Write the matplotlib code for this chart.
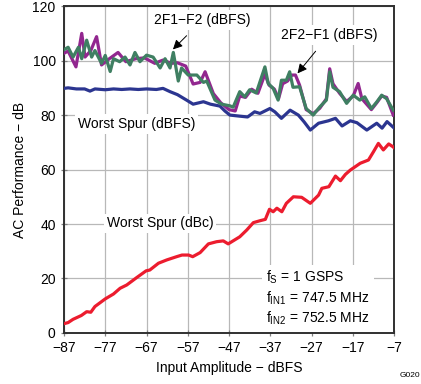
import matplotlib
matplotlib.use("Agg")
import matplotlib.pyplot as plt

plt.rcParams["font.family"] = ["Liberation Sans", "DejaVu Sans"]
plt.rcParams["mathtext.default"] = "regular"
plt.rcParams["font.size"] = 10

# Worst Spur (dBc)
dbc_x = [-87, -86, -84.8, -82.8, -81.5, -80.5, -79.5, -77, -75, -73.4, -71.8, -69.4, -67.1,
         -66.2, -64.1, -62.1, -59.7, -58.4, -56.8, -55.8, -54, -52, -50, -48.4, -47.2, -44.4,
         -42.7, -41.1, -39.5, -38.2, -37.2, -36.3, -35.4, -34.2, -33.1, -31.4, -29.4, -27.3,
         -25.3, -24.5, -22.8, -21.2, -20, -18.8, -17.6, -15.2, -13.2, -12, -10.8, -9.6, -8.3, -7.3, -7]
dbc_y = [3.4, 3.8, 5.0, 6.4, 7.8, 7.6, 9.7, 12.5, 14.3, 16.4, 17.6, 20.3, 22.8,
         23.1, 25.6, 26.8, 28.0, 28.6, 28.6, 28.0, 29.5, 32.7, 33.5, 33.8, 32.7, 35.3,
         37.8, 40.5, 41.2, 41.7, 45.4, 44.5, 45.8, 44.5, 47.6, 50.0, 49.8, 47.6,
         50.6, 53.1, 53.7, 57.6, 55.9, 58.2, 59.8, 62.3, 63.5, 66.5, 69.6, 67.2, 69.4, 68.4, 68.0]

# Worst Spur (dBFS)
dbfs_x = [-87, -86, -84, -82, -80.7, -79.5, -77, -75, -73, -71, -69, -67, -64.6, -63, -61.3,
          -59.5, -57.3, -55.7, -53.2, -51.5, -49.2, -48, -46.8, -44.4, -42.5, -40.8, -39.5,
          -37.1, -35.9, -34.3, -32.2, -30.2, -28.8, -27.3, -25.3, -22.9, -21.2, -19.6, -17.6,
          -16, -13.6, -11.2, -9.9, -8.7, -7.1]
dbfs_y = [89.8, 90.0, 89.6, 89.6, 88.8, 89.6, 89.3, 89.6, 89.4, 89.6, 89.4, 89.6, 89.4, 89.8, 88.6,
          87.5, 85.5, 84.0, 84.9, 84.0, 83.3, 81.5, 80.0, 79.6, 79.3, 81.2, 80.6,
          82.4, 81.2, 78.8, 81.8, 80.0, 77.5, 74.5, 77.0, 77.9, 78.8, 76.0, 77.9,
          77.2, 74.5, 77.0, 75.2, 77.6, 75.4]

# 2F1-F2 (purple)
imd1_x = [-87, -86, -84.1, -82.7, -81.9, -80.5, -79.1, -77.9, -76, -73.9, -72, -69.6, -67.5,
          -65, -63, -61, -59.5, -57.5, -55.7, -54, -52.8, -50.8, -49, -47, -45.5, -44.4, -43,
          -41.5, -40, -38.3, -37.3, -36, -35, -34, -32.8, -31.8, -30.9, -29.9, -28.3, -26.6,
          -25, -23.4, -22.6, -21.8, -20.2, -18.5, -16.9, -15.7, -14.8, -12.5, -11.2, -10, -8.8, -7.2]
imd1_y = [102.7, 103.5, 97.7, 110.0, 101.3, 103.7, 108.8, 98.4, 100.7, 103.0, 99.6, 100.7, 101.0,
          99.0, 100.2, 99.0, 99.2, 98.0, 91.4, 92.0, 95.9, 87.9, 84.5, 82.0, 81.5, 87.0, 86.5,
          89.5, 88.0, 95.0, 91.0, 89.5, 86.0, 91.5, 92.5, 94.7, 94.7, 91.0, 82.0, 80.5,
          82.5, 86.0, 97.0, 91.5, 88.0, 85.0, 87.0, 91.6, 86.0, 82.0, 84.5, 87.0, 86.5, 80.0]

# 2F2-F1 (green)
imd2_x = [-87, -86, -84.8, -83.5, -82.7, -81.5, -80.3, -79.5, -77.9, -77, -75.8, -75, -73.5,
          -72.2, -71, -69.8, -68.6, -67, -65.4, -63.7, -62.5, -61.3, -60.5, -59.3, -58.5, -56.9,
          -54.8, -53.2, -52.4, -50.4, -48.8, -46.8, -46, -44.4, -43.2, -42, -40.4, -38.3, -37.5,
          -36.3, -35.1, -34.3, -33.1, -32.3, -31.5, -29.9, -28.3, -26.6, -25, -23.4, -22.6,
          -21.8, -20.2, -18.5, -16.9, -15.3, -14.1, -12.5, -11.2, -10, -8.8, -7.2]
imd2_y = [104.0, 104.9, 101.3, 104.9, 100.7, 107.5, 101.3, 103.7, 99.0, 101.9, 96.0, 100.7, 99.6,
          101.3, 98.4, 103.0, 99.6, 102.0, 101.3, 97.3, 100.7, 97.3, 103.0, 92.5, 97.3, 94.7,
          94.7, 92.0, 92.5, 85.5, 84.0, 83.4, 82.9, 88.6, 86.7, 89.3, 88.1, 97.7, 91.6,
          89.8, 85.5, 92.8, 92.8, 95.9, 90.2, 90.4, 82.4, 80.0, 83.0, 85.5, 95.9,
          90.2, 88.6, 84.3, 87.3, 85.5, 86.7, 82.4, 84.8, 87.3, 86.0, 81.8]

x_ticks = list(range(-87, -6, 10))
y_ticks = list(range(0, 121, 20))

fig = plt.figure(figsize=(4.21, 3.84), dpi=100)
ax = fig.add_axes([0.152, 0.133, 0.784, 0.851])

lw = 2.3
ax.plot(dbc_x, dbc_y, color="#ec1c2e", lw=lw, zorder=3)
ax.plot(dbfs_x, dbfs_y, color="#2b3590", lw=lw, zorder=3)
ax.plot(imd1_x, imd1_y, color="#92278f", lw=lw, zorder=3)
ax.plot(imd2_x, imd2_y, color="#3f7f62", lw=lw, zorder=4)

ax.set_xlim(-87, -7)
ax.set_ylim(0, 120)
ax.set_xticks(x_ticks)
ax.set_yticks(y_ticks)
ax.grid(True, color="#b8b8b8", lw=0.9)
ax.tick_params(direction="inout", length=5, color="#808080", width=0.9, labelsize=10)
for s in ax.spines.values():
    s.set_color("#303030")
    s.set_linewidth(1.4)

ax.set_xlabel("Input Amplitude \u2212 dBFS", fontsize=10)
ax.set_ylabel("AC Performance \u2212 dB", fontsize=10)

box = dict(facecolor="white", edgecolor="none", pad=2)
ax.annotate("2F1\u2212F2 (dBFS)", xy=(-60.6, 104.1), xytext=(-53.5, 114.9),
            ha="center", va="center", bbox=box, zorder=6,
            arrowprops=dict(arrowstyle="-|>", color="black", lw=0.7, mutation_scale=14,
                            shrinkA=6, shrinkB=0))
ax.annotate("2F2\u2212F1 (dBFS)", xy=(-30.4, 95.3), xytext=(-22.8, 109.4),
            ha="center", va="center", bbox=box, zorder=6,
            arrowprops=dict(arrowstyle="-|>", color="black", lw=0.7, mutation_scale=14,
                            shrinkA=6, shrinkB=0))
ax.text(-69.4, 76.7, "Worst Spur (dBFS)", ha="center", va="center", bbox=box, zorder=6)
ax.text(-63.7, 40.2, "Worst Spur (dBc)", ha="center", va="center", bbox=box, zorder=6)
ax.text(-38.0, 12.8, "$f_S$ = 1 GSPS\n$f_{IN1}$ = 747.5 MHz\n$f_{IN2}$ = 752.5 MHz",
        ha="left", va="center", linespacing=1.25, zorder=6,
        bbox=dict(facecolor="white", edgecolor="none", pad=3))

fig.text(0.998, 0.012, "G020", fontsize=6, ha="right", va="bottom")

fig.savefig("out.png", dpi=100)
